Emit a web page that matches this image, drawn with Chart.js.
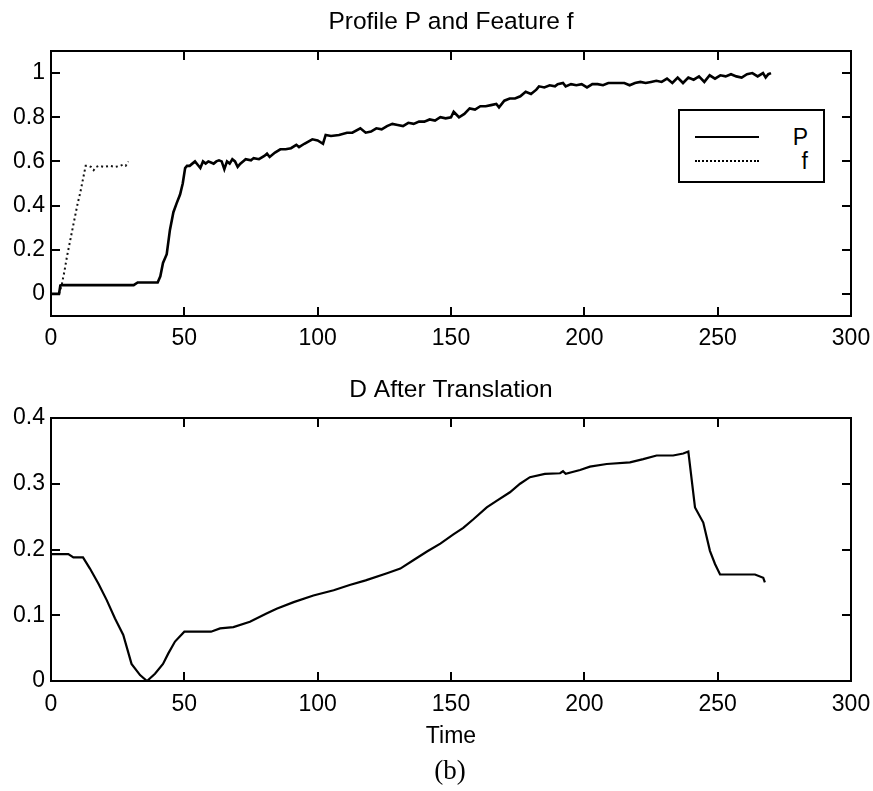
<!DOCTYPE html>
<html>
<head>
<meta charset="utf-8">
<script src="https://cdn.jsdelivr.net/npm/chart.js@4.4.1/dist/chart.umd.min.js"></script>
<style>
  body { margin: 0; background: #fff; }
  #page { position: relative; width: 873px; height: 791px; font-family: "Liberation Sans", Arial, sans-serif; }
  #topBox { position: absolute; left: 0; top: 0; }
  #bottomBox { position: absolute; left: 0; top: 360px; }
  #legend { position: absolute; left: 678px; top: 109px; width: 143px; height: 70px; border: 2px solid #000; background: #fff; }
  .row { position: absolute; left: 0; width: 143px; height: 24px; }
  .sample { position: absolute; left: 15px; top: 11px; width: 64px; height: 0; border-top: 2px solid #000; }
  .name { position: absolute; right: 15px; top: 0; font-size: 23px; line-height: 24px; color: #000; }
  #caption { position: absolute; left: 0; width: 900px; top: 755px; text-align: center; font-family: "Liberation Serif", "Times New Roman", serif; font-size: 27px; color: #000; }
</style>
</head>
<body>
<div id="page">
  <canvas id="topBox" width="873" height="360"></canvas>
  <canvas id="bottomBox" width="873" height="400"></canvas>
  <div id="legend"></div>
  <div id="caption">(b)</div>
</div>
<script>
// profile P
const pX = [0, 3, 3.5, 4, 31, 32.5, 40, 41, 42, 43.4, 44.6, 45.9, 47.1, 48.4, 49.4, 50.3, 51, 52, 53, 54, 55, 56, 57, 58, 59, 60, 61, 62, 63, 64, 65, 66, 67, 68, 69, 70, 71, 72, 73, 75, 76, 78, 80, 81, 82, 84, 86, 88, 90, 92, 93, 95, 98, 100, 102, 103, 105, 108, 111, 113, 116, 118, 120, 122, 124, 126, 128, 130, 132, 134, 136, 138, 140, 142, 144, 146, 148, 150, 151, 153, 155, 157, 159, 161, 163, 165, 167, 168, 170, 172, 174, 176, 178, 180, 182, 183, 185, 187, 189, 190, 192, 193, 195, 197, 199, 201, 203, 205, 207, 209, 212, 215, 217, 219, 221, 223, 225, 227, 229, 231, 233, 235, 237, 239, 241, 243, 245, 247, 249, 251, 253, 255, 257, 259, 261, 263, 265, 267, 268, 269, 270];
const pY = [0, 0, 0.038, 0.04, 0.04, 0.052, 0.052, 0.08, 0.14, 0.18, 0.29, 0.37, 0.41, 0.45, 0.5, 0.57, 0.58, 0.58, 0.59, 0.6, 0.585, 0.57, 0.6, 0.59, 0.6, 0.595, 0.59, 0.6, 0.605, 0.6, 0.565, 0.6, 0.59, 0.61, 0.6, 0.575, 0.59, 0.6, 0.61, 0.605, 0.615, 0.61, 0.625, 0.635, 0.62, 0.64, 0.655, 0.655, 0.66, 0.675, 0.665, 0.68, 0.7, 0.695, 0.68, 0.72, 0.715, 0.72, 0.73, 0.73, 0.75, 0.73, 0.735, 0.75, 0.745, 0.76, 0.77, 0.765, 0.76, 0.775, 0.77, 0.78, 0.78, 0.79, 0.785, 0.8, 0.795, 0.8, 0.825, 0.8, 0.815, 0.84, 0.835, 0.85, 0.85, 0.855, 0.86, 0.845, 0.875, 0.885, 0.885, 0.895, 0.915, 0.905, 0.925, 0.94, 0.935, 0.945, 0.94, 0.95, 0.955, 0.94, 0.95, 0.945, 0.95, 0.935, 0.95, 0.95, 0.945, 0.955, 0.955, 0.955, 0.945, 0.955, 0.96, 0.955, 0.96, 0.965, 0.96, 0.975, 0.955, 0.98, 0.955, 0.98, 0.97, 0.985, 0.96, 0.99, 0.975, 0.99, 0.985, 0.995, 0.985, 0.98, 0.995, 1.0, 0.985, 1.0, 0.98, 0.995, 1.0];

// feature f
const fX = [3, 4, 5, 6, 7, 8, 9, 10, 11, 12, 13, 14, 15, 16, 17, 18, 20, 22, 24, 26, 27, 28, 29];
const fY = [0.0, 0.04, 0.1, 0.17, 0.23, 0.29, 0.35, 0.41, 0.46, 0.52, 0.58, 0.58, 0.575, 0.56, 0.575, 0.58, 0.575, 0.58, 0.575, 0.58, 0.585, 0.58, 0.6];

// D after translation
const dX = [0, 6.5, 8.4, 12, 14.6, 17.8, 20.9, 24, 27.1, 30.2, 33.4, 36, 39, 42, 44, 46.5, 50, 60, 63.4, 68.4, 74.6, 81, 84.6, 91, 98.4, 106, 112, 118, 126, 131, 136, 141, 146, 150.9, 154.6, 158.4, 163.4, 167.1, 172.1, 175.9, 179.6, 185.2, 190.9, 192, 193, 198.4, 202.1, 208.4, 217.1, 222.1, 227.1, 233.3, 237.1, 239, 241.5, 244.6, 247.1, 249, 250.9, 254.6, 264, 267.1, 267.7];
const dY = [0.193, 0.193, 0.188, 0.188, 0.171, 0.148, 0.123, 0.095, 0.07, 0.026, 0.009, 0.0, 0.011, 0.026, 0.042, 0.06, 0.075, 0.075, 0.08, 0.082, 0.09, 0.103, 0.11, 0.12, 0.13, 0.138, 0.146, 0.153, 0.164, 0.171, 0.184, 0.197, 0.209, 0.223, 0.233, 0.246, 0.264, 0.274, 0.287, 0.30, 0.31, 0.315, 0.316, 0.319, 0.315, 0.321, 0.326, 0.33, 0.3325, 0.3375, 0.343, 0.343, 0.346, 0.349, 0.264, 0.241, 0.198, 0.178, 0.162, 0.162, 0.162, 0.157, 0.15];

const xTicks = [0, 50, 100, 150, 200, 250, 300];
const yTicksTop = [0, 0.2, 0.4, 0.6, 0.8, 1];
const yTicksBottom = [0, 0.1, 0.2, 0.3, 0.4];

const FONT = { family: '"Liberation Sans", Arial, sans-serif', size: 23 };
const TITLE_FONT = { family: '"Liberation Sans", Arial, sans-serif', size: 24.5, weight: 'normal' };
const TICK = 9;

function pts(xs, ys) {
    return xs.map(function (x, i) { return { x: x, y: ys[i] }; });
}

function setTicks(values) {
    return function (scale) {
        scale.ticks = values.map(function (v) { return { value: v }; });
    };
}

// one side of the box, ticks drawn inward like matlab
function axis(pos, min, max, values, showLabels, size, pad) {
    const horiz = pos === 'top' || pos === 'bottom';
    return {
        type: 'linear',
        position: pos,
        min: min,
        max: max,
        afterBuildTicks: setTicks(values),
        afterFit: function (scale) {
            if (horiz) scale.height = size; else scale.width = size;
            // the margins are fixed by hand, labels may hang over
            scale.paddingLeft = 0;
            scale.paddingRight = 0;
            scale.paddingTop = 0;
            scale.paddingBottom = 0;
        },
        grid: { drawOnChartArea: false, drawTicks: true, tickLength: -TICK, color: '#000', lineWidth: 2 },
        border: { display: true, color: '#000', width: 2 },
        ticks: {
            display: showLabels,
            color: '#000',
            font: FONT,
            padding: pad,
            maxRotation: 0,
            autoSkip: false,
            callback: function (v) { return String(v); }
        }
    };
}

function makeChart(id, title, titlePad, datasets, yMin, yMax, yTicks, xHeight, xPad, xTitle, bottomPad) {
    const xScale = axis('bottom', 0, 300, xTicks, true, xHeight, xPad);
    if (xTitle) {
        xScale.title = { display: true, text: xTitle, color: '#000', font: FONT, padding: 0 };
    }
    return new Chart(document.getElementById(id), {
        type: 'line',
        data: { datasets: datasets },
        options: {
            responsive: false,
            animation: false,
            events: [],
            layout: { padding: { left: 0, right: 0, top: 0, bottom: bottomPad } },
            plugins: {
                legend: { display: false },
                tooltip: { enabled: false },
                title: {
                    display: true,
                    text: title,
                    color: '#000',
                    font: TITLE_FONT,
                    padding: titlePad,
                    fullSize: false
                }
            },
            scales: {
                x: xScale,
                x2: axis('top', 0, 300, xTicks, false, 0, 0),
                y: axis('left', yMin, yMax, yTicks, true, 51, 15),
                y2: axis('right', yMin, yMax, yTicks, false, 22, 0)
            }
        }
    });
}

const topChart = makeChart('topBox', 'Profile P and Feature f', { top: 8, bottom: 13.6 }, [
    { label: 'P', data: pts(pX, pY), borderColor: '#000', borderWidth: 2.6, pointRadius: 0, tension: 0, xAxisID: 'x', yAxisID: 'y' },
    { label: 'f', data: pts(fX, fY), borderColor: '#111', borderWidth: 2, borderDash: [2, 3], pointRadius: 0, tension: 0, xAxisID: 'x', yAxisID: 'y' }
], -0.1, 1.1, yTicksTop, 44, 18, null, 0);

makeChart('bottomBox', 'D After Translation', { top: 15.3, bottom: 13.3 }, [
    { label: 'D', data: pts(dX, dY), borderColor: '#000', borderWidth: 2.2, pointRadius: 0, tension: 0, xAxisID: 'x', yAxisID: 'y' }
], 0, 0.4, yTicksBottom, 69, 19, 'Time', 10);

// legend box in the matlab style: sample on the left, name on the right
const legend = document.getElementById('legend');
topChart.data.datasets.forEach(function (ds, i) {
    const row = document.createElement('div');
    row.className = 'row';
    row.style.top = (14 + i * 24) + 'px';
    const line = document.createElement('div');
    line.className = 'sample';
    if (ds.borderDash) line.style.borderTopStyle = 'dotted';
    const name = document.createElement('div');
    name.className = 'name';
    name.textContent = ds.label;
    row.append(line, name);
    legend.append(row);
});
</script>
</body>
</html>
